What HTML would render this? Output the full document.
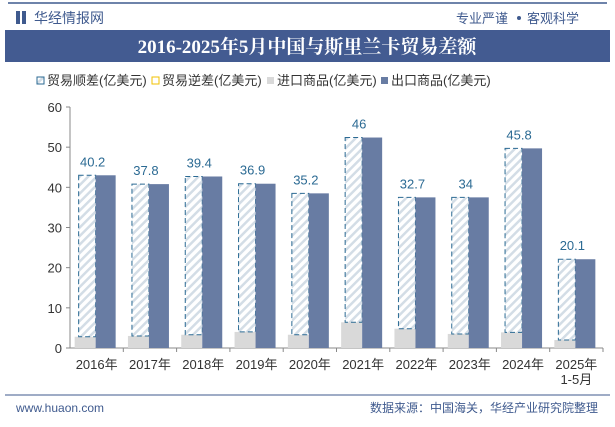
<!DOCTYPE html>
<html><head><meta charset="utf-8"><style>
body{margin:0;background:#fff;font-family:"Liberation Sans","Noto Sans CJK SC",sans-serif;}
#wrap{position:relative;width:615px;height:427px;background:#fff;overflow:hidden}
</style></head><body>
<div id="wrap">
<svg id="svg" width="615" height="427" xmlns="http://www.w3.org/2000/svg">
<defs><pattern id="hatch" patternUnits="userSpaceOnUse" width="6" height="6" patternTransform="rotate(45)"><rect width="6" height="6" fill="#fff"/><rect width="2.5" height="6" fill="#d3dde6"/></pattern></defs>
<rect x="0" y="0" width="615" height="427" fill="#fff"/>
<line x1="8" y1="3" x2="607" y2="3" stroke="#3f5a8e" stroke-width="1.5"/>
<rect x="16" y="11" width="4" height="13" fill="#3f5a8e"/><rect x="22" y="11" width="4" height="13" fill="#3f5a8e"/>
<text x="34" y="23" font-size="14" fill="#3f5a8e">华经情报网</text>
<text x="508" y="23" font-size="13" fill="#3f5a8e" text-anchor="end">专业严谨</text>
<circle cx="519" cy="18" r="2" fill="#3f5a8e"/>
<text x="509" y="23" font-size="13" fill="#3f5a8e" dx="18">客观科学</text>
<rect x="5" y="30" width="605" height="32" fill="#435b91"/>
<text x="307" y="53" font-size="19" font-weight="bold" fill="#fff" text-anchor="middle" font-family="Liberation Serif,Noto Serif CJK SC,serif">2016-2025年5月中国与斯里兰卡贸易差额</text>
<g font-size="13" fill="#333">
<rect x="37" y="77" width="7" height="7" fill="url(#hatch)" stroke="#2b6a93" stroke-width="1"/><text x="47" y="85">贸易顺差(亿美元)</text>
<rect x="152" y="77" width="7" height="7" fill="#fff" stroke="#f2c200" stroke-width="1"/><text x="162" y="85">贸易逆差(亿美元)</text>
<rect x="267" y="77" width="7" height="7" fill="#d9d9d9"/><text x="277" y="85">进口商品(亿美元)</text>
<rect x="381" y="77" width="7" height="7" fill="#687ca3"/><text x="391" y="85">出口商品(亿美元)</text>
</g>
<g id="axes"></g><g id="bars"></g>
<rect x="0" y="393" width="615" height="34" fill="#fff"/>
<line x1="5" y1="395" x2="610" y2="395" stroke="#3f5a8e" stroke-width="1"/>
<text x="16" y="412" font-size="12" fill="#3f5a8e">www.huaon.com</text>
<text x="598" y="412" font-size="12" fill="#3f5a8e" text-anchor="end">数据来源：中国海关，华经产业研究院整理</text>
</svg>
</div>
<script>
const categories=["2016年","2017年","2018年","2019年","2020年","2021年","2022年","2023年","2024年","2025年"];
const surplus=[40.2,37.8,39.4,36.9,35.2,46,32.7,34,45.8,20.1];
const imports=[2.8,3.0,3.3,4.0,3.3,6.4,4.8,3.5,3.9,2.0];
const yTicks=[0,10,20,30,40,50,60];
const NS="http://www.w3.org/2000/svg";
const x0=70,x1=603,yb=348,yt=107,ymax=60;
const step=(x1-x0)/categories.length;
const y=v=>yb-(v/ymax)*(yb-yt);
function mk(t,a,p){const e=document.createElementNS(NS,t);for(const k in a)e.setAttribute(k,a[k]);p.appendChild(e);return e;}
const ax=document.getElementById('axes'),bg=document.getElementById('bars');
mk('line',{x1:x0,y1:yt,x2:x0,y2:yb,stroke:'#888'},ax);
mk('line',{x1:x0,y1:yb,x2:x1,y2:yb,stroke:'#888'},ax);
yTicks.forEach(t=>{
 mk('line',{x1:x0-4,y1:y(t),x2:x0,y2:y(t),stroke:'#888'},ax);
 const tx=mk('text',{x:x0-8,y:y(t)+5,'font-size':13,fill:'#333','text-anchor':'end'},ax);tx.textContent=t;
 
 
});
categories.forEach((c,i)=>{
 const cx=x0+step*(i+0.5);
 mk('line',{x1:x0+step*(i+1),y1:yb,x2:x0+step*(i+1),y2:yb+4,stroke:'#888'},ax);
 const tx=mk('text',{x:cx,y:yb+21,'font-size':13,fill:'#333','text-anchor':'middle'},ax);tx.textContent=c;
 
 
 if(i===categories.length-1){const t2=mk('text',{x:cx,y:yb+36,'font-size':13,fill:'#333','text-anchor':'middle'},ax);t2.textContent='1-5月';}
 const exp=surplus[i]+imports[i];
 const im=mk('rect',{x:cx-22,y:y(imports[i]),width:21,height:yb-y(imports[i]),fill:'#d9d9d9'},bg);
 
 
 const sp=mk('rect',{x:cx-18,y:y(exp),width:17,height:y(imports[i])-y(exp),fill:'url(#hatch)',stroke:'#2b6a93','stroke-dasharray':'5,3','stroke-width':1},bg);
 
 
 const ex=mk('rect',{x:cx-1,y:y(exp),width:20,height:yb-y(exp),fill:'#687ca3'},bg);
 
 
 const lb=mk('text',{x:cx-4,y:y(exp)-9,'font-size':13,fill:'#2b6a93','text-anchor':'middle'},bg);lb.textContent=surplus[i];
 
 
});
</script>
</body></html>
